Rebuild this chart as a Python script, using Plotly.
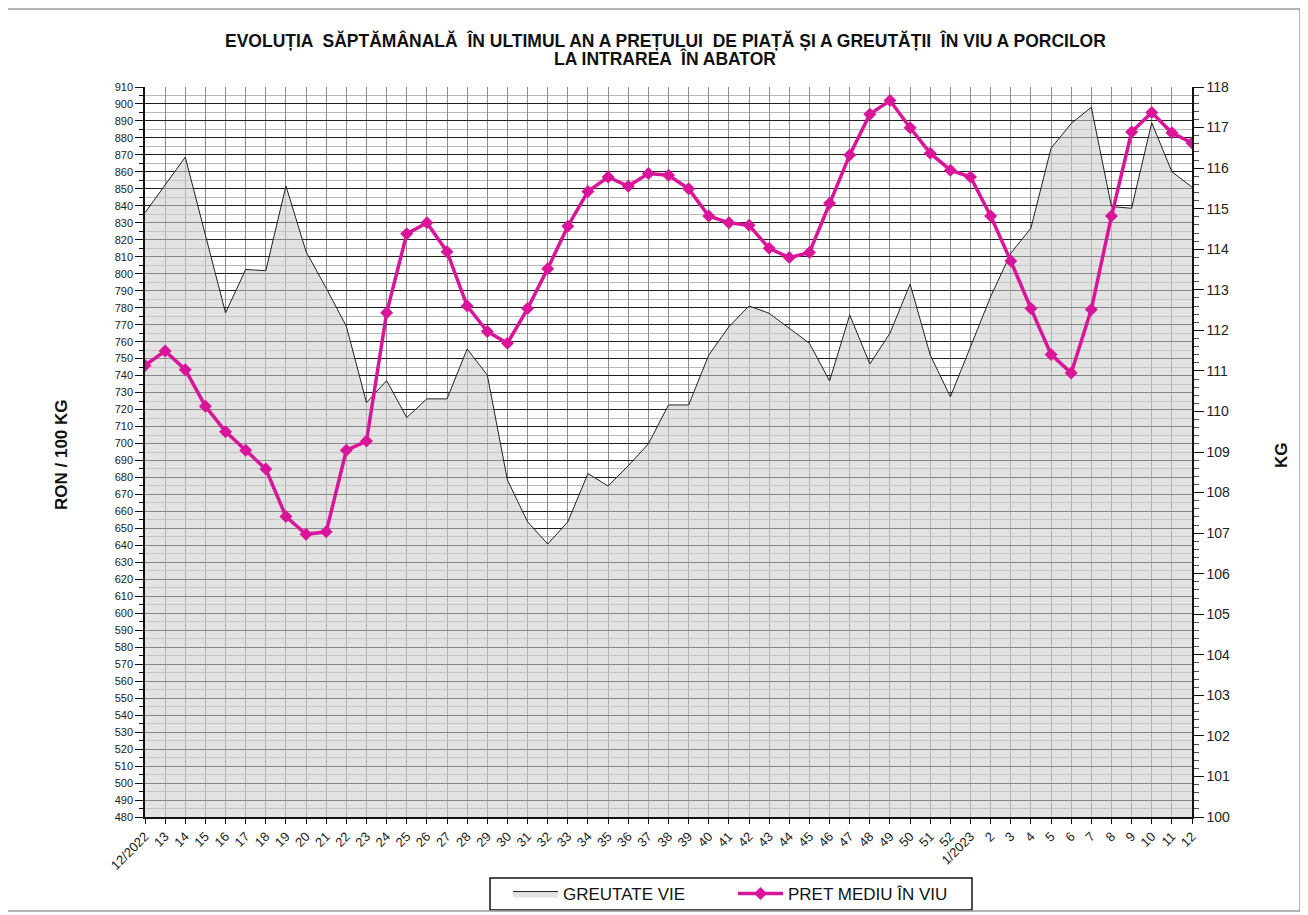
import plotly.graph_objects as go

# ---------------- data ----------------
weeks = ["12/2022"] + [str(w) for w in range(13, 53)] + ["1/2023"] + [str(w) for w in range(2, 13)]

greutate_vie = [114.9, 115.6, 116.27, 114.35, 112.43, 113.5, 113.47, 115.56, 113.94, 113.04,
                112.1, 110.22, 110.76, 109.85, 110.31, 110.31, 111.54, 110.9, 108.31, 107.28,
                106.73, 107.28, 108.47, 108.16, 108.66, 109.2, 110.16, 110.16, 111.39, 112.09,
                112.6, 112.42, 112.05, 111.68, 110.75, 112.38, 111.17, 111.93, 113.14, 111.39,
                110.36, 111.6, 112.83, 113.9, 114.52, 116.49, 117.1, 117.5, 115.05, 115.01,
                117.12, 115.91, 115.53]

pret_mediu = [746, 754.5, 743.5, 722, 707, 696, 685, 657, 646.5, 648,
              696, 701.5, 777, 823.5, 830, 813, 781, 766, 759, 779.5,
              803, 828, 848.5, 857, 851.5, 859, 858, 850, 834, 830,
              828.5, 815, 809.5, 812.5, 841.5, 870, 894, 902, 886, 871,
              861, 857, 834, 807.5, 779.5, 752.5, 741.5, 779, 834, 883.5,
              895, 883, 877]

title_line1 = "EVOLUȚIA  SĂPTĂMÂNALĂ  ÎN ULTIMUL AN A PREȚULUI  DE PIAȚĂ ȘI A GREUTĂȚII  ÎN VIU A PORCILOR"
title_line2 = "LA INTRAREA  ÎN ABATOR"

# ---------------- geometry (page has an 8px body margin) ----------------
OFF = 8
W, H = 1300, 907
L, T = 145 - OFF, 87 - OFF
R = W - (1192 - OFF)
B = H - (817 - OFF)
pw, ph = W - L - R, H - T - B


def px(x):  # page x -> paper x
    return (x - OFF - L) / pw


def py(y):  # page y -> paper y
    return (H - B - (y - OFF)) / ph


fig = go.Figure()

# area on primary axis (KG, right side) so the price line (overlay) is drawn above it
fig.add_trace(go.Scatter(
    x=weeks, y=greutate_vie, name="GREUTATE VIE", yaxis="y",
    mode="lines", line=dict(color="#222222", width=1),
    fill="tozeroy", fillcolor="rgba(207,207,207,0.6)",
))

fig.add_trace(go.Scatter(
    x=weeks, y=pret_mediu, name="PRET MEDIU ÎN VIU", yaxis="y2",
    mode="lines+markers", line=dict(color="#D9169A", width=3.5),
    marker=dict(symbol="diamond", size=10, color="#D9169A"),
))

base_font = "Liberation Sans, Arial, sans-serif"

fig.update_layout(
    width=W, height=H,
    margin=dict(l=L, r=R, t=T, b=B, autoexpand=False),
    paper_bgcolor="white", plot_bgcolor="white",
    font=dict(family=base_font, color="#111111"),
    showlegend=True,
    legend=dict(
        orientation="h", x=px(733), xanchor="center",
        y=py(894), yanchor="middle",
        borderwidth=0, bgcolor="rgba(0,0,0,0)",
        font=dict(size=17, family=base_font, color="#111111"),
        itemwidth=45, tracegroupgap=0,
        entrywidth=165, entrywidthmode="pixels",
    ),
    xaxis=dict(
        type="category", range=[0, len(weeks) - 1],
        showgrid=True, gridcolor="#8c8c8c", gridwidth=1,
        showline=True, linecolor="#111111", linewidth=1.5,
        ticks="outside", ticklen=5, tickcolor="#111111",
        tickangle=-45, tickfont=dict(size=13, family=base_font, color="#222222"),
        zeroline=False,
    ),
    yaxis=dict(
        range=[100, 118], dtick=1, side="right",
        showgrid=False, showline=True, linecolor="#111111", linewidth=1.5,
        ticks="outside", ticklen=10, tickcolor="#111111",
        tickfont=dict(size=14, family=base_font, color="#222222"),
        minor=dict(dtick=0.2, ticks="outside", ticklen=5, tickcolor="#555555"),
        zeroline=False,
    ),
    yaxis2=dict(
        range=[480, 910], dtick=10, tick0=480, overlaying="y", side="left",
        showgrid=True, gridcolor="#1e1e1e", gridwidth=1,
        showline=True, linecolor="#111111", linewidth=1.5,
        ticks="outside", ticklen=8, tickcolor="#111111",
        tickfont=dict(size=11, family=base_font, color="#222222"),
        minor=dict(dtick=5, showgrid=True, gridcolor="#b8b8b8", gridwidth=1,
                   ticks="outside", ticklen=4, tickcolor="#111111"),
        zeroline=False,
    ),
)

# title lines
fig.add_annotation(text="<b>" + title_line1 + "</b>", xref="paper", yref="paper",
                   x=px(665), y=py(40), xanchor="center", yanchor="middle", showarrow=False,
                   font=dict(size=17.5, family=base_font, color="#111111"))
fig.add_annotation(text="<b>" + title_line2 + "</b>", xref="paper", yref="paper",
                   x=px(665), y=py(58), xanchor="center", yanchor="middle", showarrow=False,
                   font=dict(size=17.5, family=base_font, color="#111111"))

# axis titles as annotations
fig.add_annotation(text="<b>RON / 100 KG</b>", xref="paper", yref="paper",
                   x=px(62), y=py(455), xanchor="center", yanchor="middle", showarrow=False,
                   textangle=-90, font=dict(size=17, family=base_font, color="#111111"))
fig.add_annotation(text="<b>KG</b>", xref="paper", yref="paper",
                   x=px(1282), y=py(455), xanchor="center", yanchor="middle", showarrow=False,
                   textangle=-90, font=dict(size=17, family=base_font, color="#111111"))

# legend frame
fig.add_shape(type="rect", xref="paper", yref="paper",
              x0=px(490), x1=px(972), y0=py(910), y1=py(878),
              line=dict(color="#111111", width=1.5), fillcolor="white", layer="below")

# outer chart border
fig.add_shape(type="rect", xref="paper", yref="paper",
              x0=px(7), x1=px(1300), y0=py(911), y1=py(9),
              line=dict(color="#9a9a9a", width=1.5), layer="below")

fig.write_html("out.html")
